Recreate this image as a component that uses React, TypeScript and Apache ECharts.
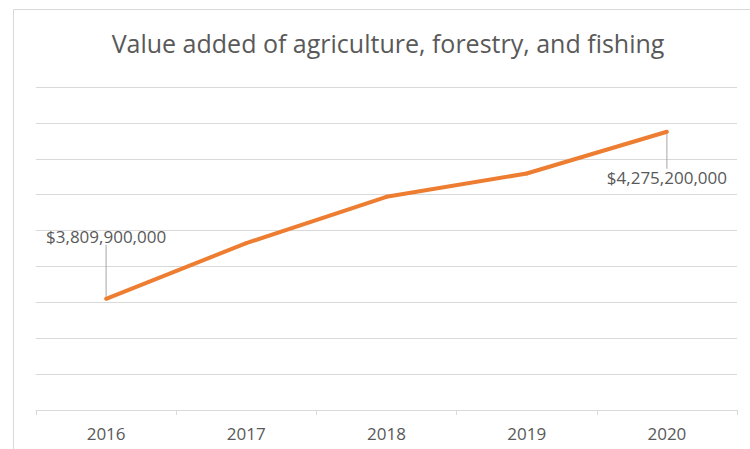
import React, { useEffect, useRef } from "react";
import * as echarts from "echarts";

const categories = ["2016", "2017", "2018", "2019", "2020"];
const values = [3809900000, 3965000000, 4094000000, 4159000000, 4275200000];
const labeledIndices = [0, 4];
const titleText = "Value added of agriculture, forestry, and fishing";
const yMin = 3500000000;
const yMax = 4400000000;
const yInterval = 100000000;

const fmt = (v: number) => "$" + v.toLocaleString("en-US");

export default function App() {
  const ref = useRef<HTMLDivElement>(null);
  useEffect(() => {
    if (!ref.current) return;
    const chart = echarts.init(ref.current, undefined, { renderer: "svg" });
    chart.setOption({
      animation: false,
      backgroundColor: "#ffffff",
      textStyle: { fontFamily: "Open Sans" },
      title: {
        text: titleText,
        left: 383,
        top: 25,
        textAlign: "center",
        textStyle: { color: "#595959", fontSize: 25, fontWeight: "normal", fontFamily: "Open Sans" },
      },
      graphic: [
        {
          type: "rect",
          shape: { x: 13.5, y: 9.5, width: 800, height: 500 },
          style: { fill: "none", stroke: "#D9D9D9", lineWidth: 1 },
          silent: true,
        },
      ],
      grid: { left: 36, right: 13, top: 87, bottom: 39 },
      xAxis: {
        type: "category",
        data: categories,
        boundaryGap: true,
        axisLine: { lineStyle: { color: "#D9D9D9", width: 1 } },
        axisTick: { show: true, length: 5, lineStyle: { color: "#D9D9D9" } },
        axisLabel: { color: "#595959", fontSize: 17, margin: 15, fontFamily: "Open Sans" },
      },
      yAxis: {
        type: "value",
        min: yMin,
        max: yMax,
        interval: yInterval,
        axisLabel: { show: false },
        axisLine: { show: false },
        axisTick: { show: false },
        splitLine: { lineStyle: { color: "#D9D9D9", width: 1 } },
      },
      series: [
        {
          type: "line",
          data: values.map((v, i) => ({
            value: v,
            label: {
              show: labeledIndices.includes(i),
              position: i === 0 ? "top" : "bottom",
            },
          })),
          symbol: "circle",
          symbolSize: 4,
          itemStyle: { color: "#ED7D31" },
          lineStyle: { color: "#ED7D31", width: 4 },
          label: {
            show: false,
            formatter: (p: any) => fmt(p.value),
            color: "#595959",
            fontSize: 17,
            fontFamily: "Open Sans",
            distance: 5,
          },
          labelLine: { show: true, lineStyle: { color: "#A6A6A6", width: 1 } },
          labelLayout: (p: any) => {
            if (p.dataIndex === 0) return { dy: -47 };
            if (p.dataIndex === 4) return { dy: 30 };
            return {};
          },
        },
      ],
    });
    return () => chart.dispose();
  }, []);
  return (
    <div
      ref={ref}
      style={{ position: "fixed", left: 0, top: 0, width: 750, height: 449 }}
    />
  );
}
